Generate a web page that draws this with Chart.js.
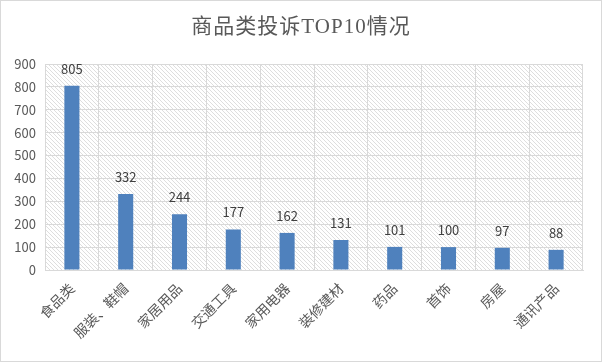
<!DOCTYPE html>
<html>
<head>
<meta charset="utf-8">
<script src="https://cdn.jsdelivr.net/npm/chart.js@4/dist/chart.umd.min.js"></script>
<style>
  body { margin: 0; background: #fff; }
  #wrap { width: 600px; height: 360px; border: 1px solid #d9d9d9; }
</style>
</head>
<body>
<div id="wrap"><canvas id="grafico" width="600" height="360"></canvas></div>
<script>
// datos del grafico
const categorias = ['食品类', '服装、鞋帽', '家居用品', '交通工具', '家用电器', '装修建材', '药品', '首饰', '房屋', '通讯产品'];
const quejas = [805, 332, 244, 177, 162, 131, 101, 100, 97, 88];
const titulo = '商品类投诉TOP10情况';

// trama diagonal del fondo
function trama() {
    const c = document.createElement('canvas');
    c.width = 4; c.height = 4;
    const x = c.getContext('2d');
    x.fillStyle = '#fff';
    x.fillRect(0, 0, 4, 4);
    x.fillStyle = '#dedede';
    for (let i = 0; i < 4; i++) x.fillRect(i, i, 1, 1);
    return x.createPattern(c, 'repeat');
}

const fondo = {
    id: 'fondo',
    beforeDraw(chart) {
        const a = chart.chartArea, ctx = chart.ctx;
        ctx.save();
        ctx.fillStyle = trama();
        ctx.fillRect(a.left, a.top, a.right - a.left, a.bottom - a.top);
        ctx.restore();
    }
};

// titulo centrado en todo el lienzo
const cabecera = {
    id: 'cabecera',
    afterDraw(chart) {
        const ctx = chart.ctx;
        ctx.save();
        ctx.font = '21px "Liberation Serif", "Noto Sans CJK SC", serif';
        ctx.letterSpacing = '1px';
        ctx.fillStyle = '#595959';
        ctx.textAlign = 'center';
        ctx.textBaseline = 'middle';
        ctx.fillText(titulo, chart.width / 2, 26);
        ctx.restore();
    }
};

const etiquetas = {
    id: 'etiquetas',
    afterDatasetsDraw(chart) {
        const ctx = chart.ctx;
        const meta = chart.getDatasetMeta(0);
        ctx.save();
        ctx.font = '13px "Noto Sans CJK SC", sans-serif';
        ctx.fillStyle = '#404040';
        ctx.textAlign = 'center';
        ctx.textBaseline = 'middle';
        meta.data.forEach((bar, i) => {
            ctx.fillText(quejas[i], bar.x, bar.y - 17);
        });
        ctx.restore();
    }
};

const graph = document.querySelector('#grafico');

new Chart(graph, {
    type: 'bar',
    data: {
        labels: categorias,
        datasets: [{
            data: quejas,
            backgroundColor: '#4f81bd',
            barPercentage: 0.28,
            categoryPercentage: 1
        }]
    },
    options: {
        responsive: false,
        animation: false,
        layout: { padding: { left: 0, right: 18, top: 63, bottom: 0 } },
        plugins: {
            legend: { display: false },
            tooltip: { enabled: false },
            title: { display: false }
        },
        scales: {
            x: {
                grid: { color: '#d9d9d9', offset: true, drawTicks: false },
                border: { color: '#d9d9d9' },
                ticks: {
                    color: '#595959',
                    font: { size: 14, family: '"Noto Sans CJK SC", sans-serif' },
                    minRotation: 45,
                    maxRotation: 45,
                    padding: 10
                },
                afterFit(s) { s.height = 91; }
            },
            y: {
                min: 0,
                max: 900,
                grid: { color: '#d9d9d9', drawTicks: false },
                border: { color: '#d9d9d9' },
                ticks: {
                    stepSize: 100,
                    color: '#595959',
                    font: { size: 13, family: '"Noto Sans CJK SC", sans-serif' },
                    padding: 9
                },
                afterFit(s) { s.width = 44; }
            }
        }
    },
    plugins: [fondo, cabecera, etiquetas]
});
</script>
</body>
</html>
